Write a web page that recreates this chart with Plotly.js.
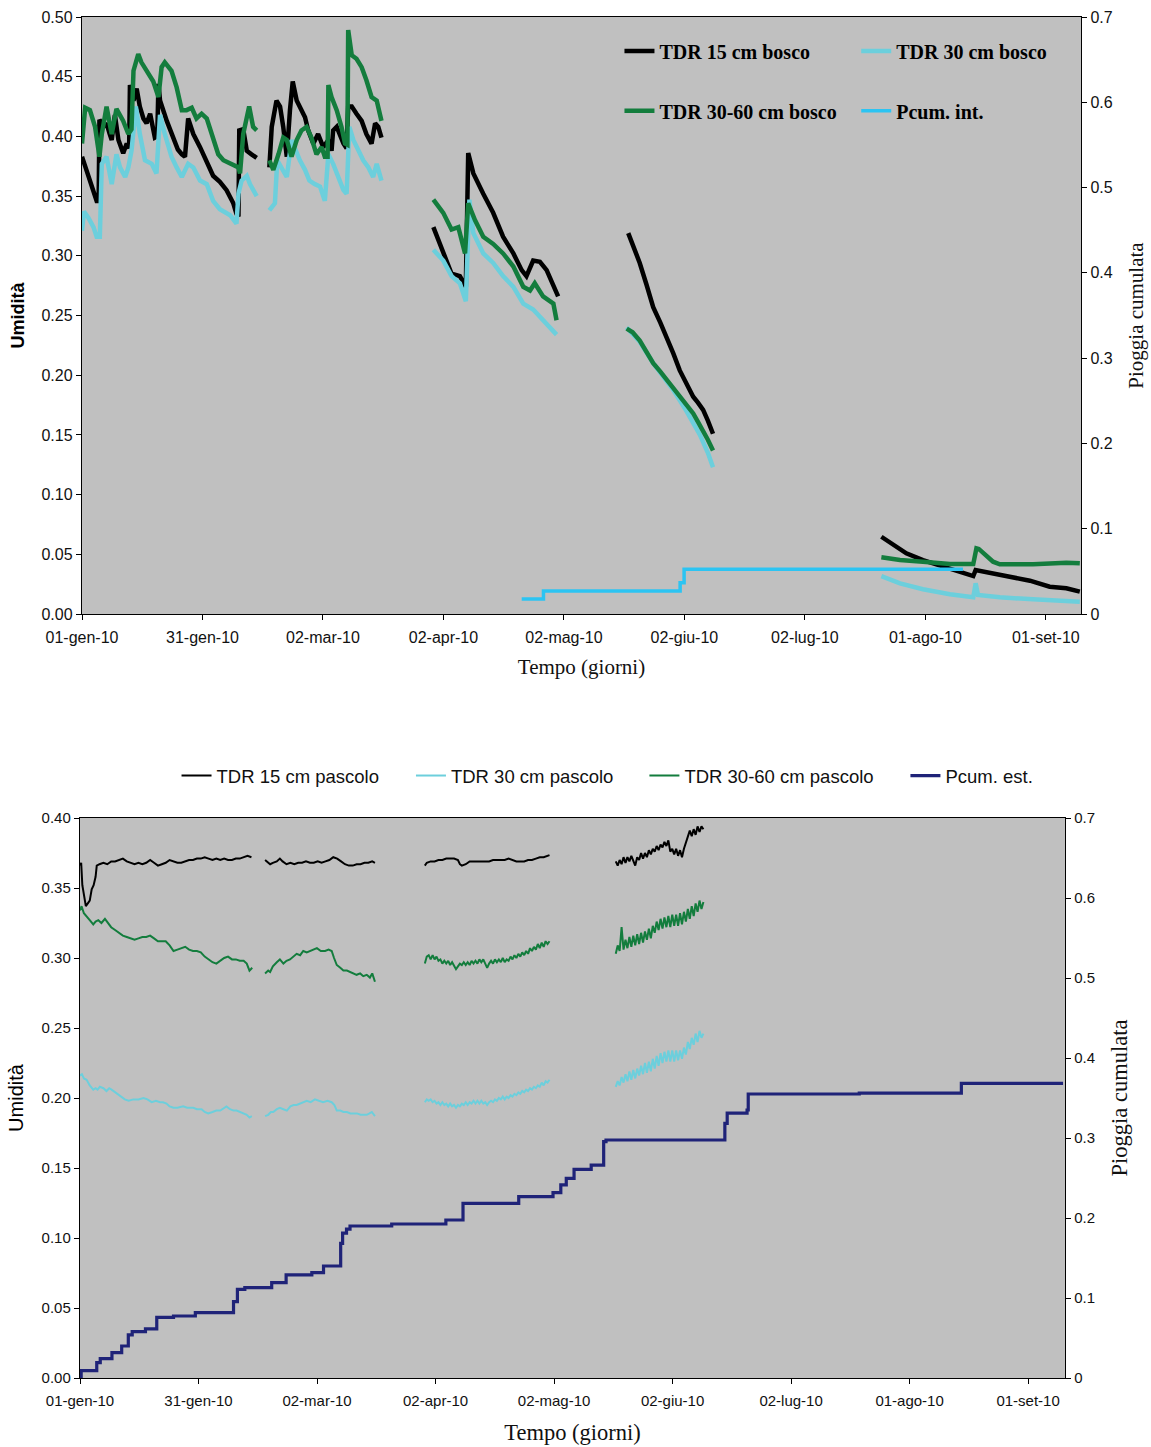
<!DOCTYPE html>
<html>
<head>
<meta charset="utf-8">
<script src="https://cdn.plot.ly/plotly-3.0.1.min.js"></script>
<style>
  html, body { margin: 0; padding: 0; background: #ffffff; }
  #bosco   { position: absolute; left: 0; top: 0;     width: 1151px; height: 700px; }
  #pascolo { position: absolute; left: 0; top: 700px; width: 1151px; height: 747px; }
</style>
</head>
<body>
<div id="bosco"></div>
<div id="pascolo"></div>
<script>
// ---- Soil moisture (TDR) and cumulative rainfall, 2010 ----
// Each entry is [day since 01-gen-2010, value]; null marks a gap in the record.

const tickLabels = ['01-gen-10','31-gen-10','02-mar-10','02-apr-10','02-mag-10',
                    '02-giu-10','02-lug-10','01-ago-10','01-set-10'];

// Bosco (forest) site
const bosco15 = [
  [0,.383],[0.5,.378],[1.2,.371],[2,.362],[3,.352],[3.7,.346],[4.2,.346],[4.4,.414],[5.4,.408],[6.2,.411],
  [7,.402],[7.5,.397],[8.3,.418],[9.2,.397],[10.4,.386],[11.3,.394],[11.9,.390],[12.1,.443],[13,.430],[13.8,.440],
  [14.6,.425],[15.5,.415],[16.3,.411],[17.2,.419],[18.4,.399],[19,.400],[19.3,.444],[19.7,.430],[21.4,.413],[23.1,.397],
  [24.2,.389],[25.2,.385],[26,.383],[26.8,.415],[28.1,.402],[29.8,.391],[30.6,.385],[31.9,.374],[33.1,.367],[34.8,.362],
  [36.5,.355],[38.2,.344],[39,.335],[39.5,.333],[39.7,.405],[40.7,.406],[41.6,.388],[42.8,.385],[44.1,.382],
  null,
  [47.3,.374],[47.9,.408],[49.1,.430],[50,.425],[50.8,.408],[51.7,.383],[52.5,.422],[53.2,.446],[54.2,.430],[55.4,.422],
  [56.3,.416],[57.1,.405],[58.4,.394],[59.6,.402],[60.9,.391],[62.2,.397],[63,.388],[63.4,.405],[64.3,.408],[66,.394],
  [66.8,.390],[67.2,.425],[68.1,.425],[69.3,.419],[70.6,.413],[71.8,.402],[73.1,.394],[74,.411],[74.8,.408],[75.6,.399],
  null,
  [88.7,.324],[91.2,.302],[93.3,.285],[95.4,.283],[96.9,.274],[97.5,.386],[98.8,.369],[101.3,.352],[103.8,.336],[106.3,.316],
  [108.9,.302],[111,.288],[112.2,.283],[113.9,.296],[115.6,.295],[117.3,.288],[119,.274],[120.2,.266],
  null,
  [137.9,.319],[140.8,.294],[142.5,.276],[144.2,.257],[146,.244],[147.6,.232],[149.3,.218],[150.9,.204],[152.6,.193],
  [154.3,.182],[155.5,.177],[156.8,.171],[158,.162],[159.3,.151],
  null,
  [201.8,.0647],[204.8,.0578],[208.1,.0508],[212.3,.0452],[217.4,.0396],[221.6,.0354],[225,.0318],[225.6,.0368],
  [229.2,.0341],[234.2,.0312],[239.3,.0279],[244.3,.0229],[248.5,.0215],[251.9,.0187]
];

const bosco30 = [
  [0,.321],[0.5,.337],[1.6,.332],[2.9,.324],[3.7,.316],[4.5,.316],[5,.377],[6.2,.383],[7.5,.360],[8.7,.385],
  [9.6,.374],[10.9,.366],[11.7,.374],[12.5,.388],[13.6,.425],[14.6,.402],[15.9,.380],[17.6,.377],[18.8,.369],[19.7,.418],
  [20.9,.402],[22.6,.383],[23.9,.374],[25.2,.366],[26.8,.377],[28.1,.374],[29.8,.363],[31.5,.360],[33.1,.346],[34.8,.339],
  [37.4,.334],[39,.327],[39.5,.352],[40.3,.363],[41.6,.367],[42.4,.360],[44.1,.350],
  null,
  [47.3,.338],[48.7,.344],[49.3,.380],[50.4,.374],[51.7,.366],[52.9,.397],[54,.388],[55,.380],[56.3,.372],[57.4,.363],
  [58.8,.360],[60.1,.358],[61.3,.346],[62.2,.385],[63.4,.377],[64.7,.366],[66,.355],[66.8,.352],[67.5,.408],[68.5,.397],
  [69.7,.388],[71,.380],[72.3,.374],[73.5,.366],[74.4,.377],[75.6,.363],
  null,
  [88.7,.305],[91.2,.296],[93.3,.283],[95.4,.277],[96.9,.262],[97.8,.347],[98.8,.319],[101.3,.302],[103.8,.294],[106.3,.283],
  [108.9,.274],[111.4,.260],[113.9,.255],[116.4,.246],[119.8,.234],
  null,
  [137.5,.240],[140.8,.228],[144.2,.210],[147.6,.195],[149.2,.188],[152.6,.170],[156,.150],[158,.135],[159.3,.123],
  null,
  [201.8,.0318],[206.5,.0257],[212.3,.0207],[219.1,.0165],[225,.0140],[225.6,.0257],[226.2,.0159],[231.7,.0140],
  [240.1,.0123],[251.9,.0103]
];

const bosco3060 = [
  [0,.394],[0.8,.424],[2,.422],[3.3,.408],[4.4,.383],[5,.402],[6.2,.425],[7.5,.402],[8.7,.423],[10.4,.413],
  [11.7,.402],[12.5,.406],[13,.455],[14.2,.469],[15,.462],[16.3,.455],[18,.446],[19.3,.433],[20.1,.458],[20.9,.462],
  [22.6,.455],[23.9,.441],[25.2,.422],[26.4,.422],[27.7,.424],[28.9,.415],[30.2,.419],[31.5,.415],[33.1,.399],[34.4,.385],
  [35.7,.380],[37.4,.377],[39.5,.374],[39.9,.369],[40.7,.402],[42.2,.425],[43.2,.408],[44.1,.405],
  null,
  [47.3,.380],[48.3,.372],[49.6,.385],[50.8,.399],[51.7,.397],[52.9,.383],[54.2,.397],[55.4,.405],[56.7,.408],[57.9,.399],
  [59.2,.385],[60.5,.391],[61.3,.383],[62,.383],[62.2,.443],[63,.433],[64.3,.422],[65.5,.408],[66.4,.394],[67,.393],
  [67.2,.489],[68.1,.468],[69.3,.465],[70.6,.458],[71.8,.447],[73.1,.433],[74.4,.430],[75.6,.413],
  null,
  [88.7,.347],[91.2,.336],[93.3,.322],[95,.324],[96.7,.302],[97.5,.344],[99.2,.330],[101.3,.316],[103.8,.310],[106.3,.302],
  [108.9,.291],[111.4,.274],[113.1,.271],[114.3,.277],[116.4,.266],[119,.260],[119.8,.246],
  null,
  [137.5,.239],[139,.236],[140.8,.229],[142.5,.220],[144.2,.210],[146,.203],[147.6,.196],[149.2,.189],[150.9,.182],
  [152.6,.175],[154.3,.168],[155.5,.161],[156.8,.154],[158,.146],[159.3,.137],
  null,
  [201.8,.0475],[206.5,.0452],[212.3,.0438],[219.1,.0419],[225,.0418],[225.8,.0550],[226.4,.0545],[230,.0438],
  [231.7,.0416],[240.1,.0416],[248.5,.0430],[251.9,.0424]
];

// cumulative rainfall under canopy (right axis), step series
const pcumInt = [[111,.0176],[116.5,.027],[151,.0367],[152,.0524],[222.4,.0524]];

// Pascolo (pasture) site
const pascolo15 = [
  [0,.366],[0.3,.368],[0.6,.352],[1,.344],[1.5,.337],[2,.339],[2.5,.341],[3,.349],[3.5,.352],[4,.358],[4.3,.366],
  [5,.367],[6,.368],[7,.367],[8,.369],[9,.369],[10,.370],[11,.371],[12,.369],[13,.368],[14,.367],[15,.368],[16,.367],
  [17,.368],[18,.370],[19,.368],[20,.366],[21,.367],[22,.368],[23,.370],[24,.369],[25,.368],[26,.368],[27,.369],
  [28,.370],[29,.370],[30,.371],[31,.371],[32,.372],[33,.371],[34,.370],[35,.371],[36,.370],[37,.371],[38,.370],
  [39,.370],[40,.371],[41,.371],[42,.372],[43,.373],[44,.372],
  null,
  [47.5,.370],[48,.369],[48.8,.367],[49.5,.368],[50.5,.369],[51.3,.371],[52,.369],[53,.367],[54,.368],[55,.367],
  [56,.368],[57,.368],[58,.369],[59,.368],[60,.368],[61,.369],[62,.368],[63,.369],[64,.370],[65,.372],[66,.371],
  [67,.369],[68,.367],[69,.366],[70,.366],[71,.367],[72,.367],[73,.368],[74,.368],[75,.369],[75.7,.368],
  null,
  [88.5,.366],[89,.368],[90,.369],[91,.369],[92,.370],[93,.370],[94,.371],[95,.371],[96,.371],[97,.370],[97.5,.367],
  [98,.366],[99,.367],[100,.369],[101,.369],[102,.369],[103,.369],[104,.369],[105,.369],[106,.370],[107,.370],
  [108,.370],[109,.370],[110,.371],[111,.370],[112,.369],[113,.369],[114,.369],[115,.370],[116,.370],[117,.371],
  [118,.372],[119,.372],[120,.373],[120.5,.3735],
  null,
  [137.5,.369],[138,.366],[138.5,.370],[139,.367],[139.5,.372],[140,.368],[140.5,.372],[141,.369],[141.5,.373],
  [142,.369],[142.5,.366],[143,.372],[143.5,.370],[144,.375],[144.5,.371],[145,.375],[145.5,.372],[146,.377],
  [146.5,.374],[147,.378],[147.5,.376],[148,.380],[148.5,.377],[149,.381],[149.5,.379],[150,.383],[150.5,.380],
  [151,.384],[151.5,.376],[152,.378],[152.5,.374],[153,.378],[153.5,.373],[154,.377],[154.5,.372],[155,.378],
  [155.5,.382],[156,.386],[156.5,.391],[157,.387],[157.5,.392],[158,.388],[158.5,.394],[159,.390],[159.5,.394],[160,.392]
];

const pascolo30 = [
  [0,.216],[0.5,.217],[1,.214],[1.7,.213],[2.5,.209],[3.4,.206],[4,.207],[4.5,.206],[5.1,.208],[6,.207],[6.8,.205],
  [7.5,.207],[8.1,.206],[9,.204],[10,.202],[11,.200],[11.5,.199],[12.5,.198],[13.7,.199],[15,.199],[16.3,.200],
  [17.3,.199],[18.4,.197],[19.5,.198],[20.5,.197],[21.3,.197],[22.2,.196],[23,.194],[24,.193],[25,.193],[26.5,.194],
  [27.5,.193],[29.1,.193],[30,.192],[31.2,.192],[32,.190],[32.9,.189],[34,.190],[35,.191],[36,.191],[37,.193],
  [37.6,.194],[38.5,.192],[39.4,.191],[40.2,.191],[41.1,.190],[42,.189],[42.8,.188],[43.5,.186],[44.1,.187],
  null,
  [47.5,.187],[48.3,.188],[49,.190],[49.6,.190],[50.5,.192],[51.3,.193],[52.2,.192],[53.1,.191],[54,.194],[54.8,.195],
  [55.6,.195],[56.5,.196],[57.3,.197],[58.2,.198],[59.2,.197],[60.3,.199],[61.3,.198],[62.4,.197],[63.5,.198],
  [64.6,.197],[65.3,.195],[65.9,.191],[66.8,.191],[67.6,.190],[68.5,.190],[69.4,.189],[70.2,.189],[71.1,.189],
  [72,.188],[72.8,.188],[73.6,.188],[74.3,.189],[74.9,.190],[75.7,.187],
  null,
  [88.5,.197],[89,.199],[89.5,.198],[90,.199],[90.5,.197],[91,.198],[91.5,.196],[92,.197],[92.5,.195],[93,.197],
  [93.5,.195],[94,.196],[94.5,.194],[95,.196],[95.5,.194],[96,.195],[96.5,.193],[97,.195],[97.5,.194],[98,.196],
  [98.5,.195],[99,.197],[99.5,.195],[100,.197],[100.5,.196],[101,.198],[101.5,.196],[102,.198],[102.5,.196],
  [103,.198],[103.5,.196],[104,.197],[104.5,.195],[105,.197],[105.5,.198],[106,.197],[106.5,.199],[107,.198],
  [107.5,.200],[108,.199],[108.5,.201],[109,.199],[109.5,.201],[110,.200],[110.5,.202],[111,.201],[111.5,.203],
  [112,.202],[112.5,.204],[113,.203],[113.5,.205],[114,.204],[114.5,.206],[115,.205],[115.5,.207],[116,.206],
  [116.5,.208],[117,.207],[117.5,.209],[118,.208],[118.5,.211],[119,.209],[119.5,.212],[120,.211],[120.5,.213],
  null,
  [137.5,.208],[138,.212],[138.5,.209],[139,.215],[139.5,.211],[140,.217],[140.5,.212],[141,.219],[141.5,.213],
  [142,.220],[142.5,.214],[143,.221],[143.5,.216],[144,.223],[144.5,.217],[145,.225],[145.5,.218],[146,.226],
  [146.5,.219],[147,.228],[147.5,.221],[148,.230],[148.5,.223],[149,.232],[149.5,.225],[150,.233],[150.5,.226],
  [151,.234],[151.5,.226],[152,.234],[152.5,.226],[153,.234],[153.5,.227],[154,.234],[154.5,.228],[155,.236],
  [155.5,.231],[156,.240],[156.5,.235],[157,.243],[157.5,.238],[158,.246],[158.5,.240],[159,.248],[159.5,.243],[160,.246]
];

const pascolo3060 = [
  [0,.334],[0.4,.337],[1,.332],[1.7,.330],[2.5,.327],[3.4,.324],[4,.326],[4.7,.327],[5.5,.325],[6.4,.328],[7,.326],
  [8,.322],[9,.320],[10,.318],[11,.316],[12,.315],[13,.314],[14,.313],[15,.314],[16,.315],[17,.315],[18,.316],
  [19,.314],[20,.312],[21,.312],[22,.312],[23,.309],[24,.305],[25,.306],[26,.307],[27,.308],[28,.306],[29,.305],
  [30,.305],[31,.304],[32,.301],[33,.299],[34,.297],[35,.296],[36,.298],[37,.300],[38,.301],[39,.299],[40,.299],
  [41,.298],[42,.298],[42.8,.296],[43.5,.291],[44.2,.293],
  null,
  [47.5,.289],[48.3,.291],[48.8,.290],[49.5,.294],[50.5,.297],[51.3,.299],[52.2,.296],[53,.298],[53.9,.299],
  [54.7,.301],[55.6,.303],[56.5,.302],[57.3,.305],[58.2,.304],[59,.305],[59.9,.306],[60.8,.307],[61.8,.305],
  [62.9,.305],[63.8,.306],[64.6,.305],[65.2,.300],[65.9,.295],[66.8,.293],[67.6,.291],[68.5,.291],[69.4,.290],
  [70.2,.289],[71,.288],[71.9,.289],[72.7,.287],[73.6,.288],[74.4,.286],[75,.289],[75.7,.283],
  null,
  [88.5,.296],[89,.301],[89.5,.302],[90,.299],[90.5,.302],[91,.299],[91.5,.301],[92,.298],[92.5,.299],[93,.296],
  [93.5,.298],[94,.296],[94.5,.298],[95,.295],[95.5,.297],[96,.294],[96.5,.292],[97,.294],[97.5,.296],[98,.295],
  [98.5,.297],[99,.295],[99.5,.297],[100,.295],[100.5,.298],[101,.296],[101.5,.298],[102,.296],[102.5,.299],
  [103,.297],[103.5,.299],[104,.296],[104.5,.293],[105,.296],[105.5,.298],[106,.296],[106.5,.299],[107,.297],
  [107.5,.299],[108,.297],[108.5,.300],[109,.297],[109.5,.299],[110,.298],[110.5,.301],[111,.299],[111.5,.302],
  [112,.300],[112.5,.303],[113,.301],[113.5,.304],[114,.302],[114.5,.305],[115,.303],[115.5,.307],[116,.305],
  [116.5,.308],[117,.306],[117.5,.310],[118,.307],[118.5,.311],[119,.308],[119.5,.312],[120,.310],[120.5,.312],
  null,
  [137.5,.303],[138,.309],[138.5,.305],[139,.322],[139.5,.306],[140,.313],[140.5,.307],[141,.315],[141.5,.308],
  [142,.316],[142.5,.309],[143,.317],[143.5,.310],[144,.318],[144.5,.311],[145,.319],[145.5,.313],[146,.321],
  [146.5,.314],[147,.323],[147.5,.318],[148,.326],[148.5,.320],[149,.328],[149.5,.321],[150,.329],[150.5,.322],
  [151,.330],[151.5,.322],[152,.331],[152.5,.323],[153,.331],[153.5,.323],[154,.332],[154.5,.324],[155,.333],
  [155.5,.326],[156,.335],[156.5,.328],[157,.337],[157.5,.330],[158,.339],[158.5,.333],[159,.341],[159.5,.335],[160,.340]
];

// cumulative open-field rainfall (right axis), step series
const pcumEst = [
  [0,0],[0.3,.0092],[4.3,.0192],[5.2,.0242],[8.2,.0317],[10.7,.040],[12.4,.0538],[13.4,.0579],[16.8,.0613],
  [19.7,.0758],[24,.0775],[29.6,.0817],[39.4,.0954],[40.4,.1108],[42.3,.113],[49.2,.1192],[52.9,.1288],[59.5,.1317],
  [62.5,.140],[66.9,.1683],[67.4,.181],[68.4,.186],[69.3,.190],[80,.1925],[93.9,.1975],[98.3,.2183],[112.6,.2267],
  [121.4,.2317],[123.4,.2413],[124.8,.2496],[126.8,.2608],[131.2,.266],[134.4,.2954],[135,.2975],[165.5,.3183],
  [166.1,.331],[171.2,.335],[171.5,.355],[200,.356],[226.2,.3683],[252.3,.3683]
];

// ---- helpers ----
const BASE = Date.UTC(2010, 0, 1);
function dayToDate(d) {
  return new Date(BASE + d * 86400000).toISOString().slice(0, 19).replace('T', ' ');
}
function xy(pairs) {
  const x = [], y = [];
  pairs.forEach(p => {
    if (p === null) { x.push(null); y.push(null); }
    else { x.push(dayToDate(p[0])); y.push(p[1]); }
  });
  return { x, y };
}
// month ticks are evenly spaced (365/12 days apart)
const tickVals = tickLabels.map((_, k) => dayToDate(k * 365 / 12));

const BLACK = '#000000', CYAN = '#6ccfdc', GREEN = '#137d3d', SKY = '#2cc4f2', NAVY = '#1f2378';
const SANS = 'Liberation Sans, Arial, sans-serif';
const SERIF = 'Liberation Serif, Times New Roman, serif';

function line(pairs, name, color, width, legend, yaxis, shape) {
  const d = xy(pairs);
  return {
    type: 'scatter', mode: 'lines', x: d.x, y: d.y, name: name,
    line: { color: color, width: width, shape: shape || 'linear' },
    yaxis: yaxis || 'y', legend: legend, connectgaps: false, hoverinfo: 'skip'
  };
}

function xAxis(endDay, tickSize, labelGap, titleSize, titleGap) {
  return {
    type: 'date', range: [dayToDate(0), dayToDate(endDay)],
    tickmode: 'array', tickvals: tickVals, ticktext: tickLabels,
    ticks: 'outside', ticklen: 5, tickcolor: '#000', showgrid: false, zeroline: false,
    showline: true, linecolor: '#000', linewidth: 1.2, mirror: true,
    ticklabelstandoff: labelGap,
    tickfont: { family: SANS, size: tickSize, color: '#111' },
    title: { text: 'Tempo (giorni)', font: { family: SERIF, size: titleSize, color: '#111' }, standoff: titleGap }
  };
}

function yLeft(maxVal, tickSize, titleFont) {
  return {
    range: [0, maxVal], dtick: 0.05, tickformat: '.2f',
    ticks: 'outside', ticklen: 5, tickcolor: '#000', showgrid: false, zeroline: false,
    showline: true, linecolor: '#000', linewidth: 1.2,
    tickfont: { family: SANS, size: tickSize, color: '#111' },
    title: { text: 'Umidità', font: titleFont, standoff: 12 }
  };
}

function yRight(tickSize, titleSize, titleGap) {
  return {
    overlaying: 'y', side: 'right', range: [0, 0.7],
    tickmode: 'array', tickvals: [0, .1, .2, .3, .4, .5, .6, .7],
    ticktext: ['0', '0.1', '0.2', '0.3', '0.4', '0.5', '0.6', '0.7'],
    ticks: 'outside', ticklen: 5, tickcolor: '#000', showgrid: false, zeroline: false,
    showline: true, linecolor: '#000', linewidth: 1.2,
    tickfont: { family: SANS, size: tickSize, color: '#111' },
    title: { text: 'Pioggia cumulata', font: { family: SERIF, size: titleSize, color: '#111' }, standoff: titleGap }
  };
}

function legendAt(x, y, font) {
  return { x: x, y: y, xanchor: 'left', yanchor: 'middle', orientation: 'h',
           bgcolor: 'rgba(0,0,0,0)', borderwidth: 0, font: font };
}

// ---- upper chart: bosco ----
const topFont = { family: SERIF, size: 20, color: '#000', weight: 'bold' };
const topTraces = [
  line(bosco15,   'TDR 15 cm bosco',    BLACK, 4.5, 'legend'),
  line(bosco30,   'TDR 30 cm bosco',    CYAN,  4.5, 'legend2'),
  line(bosco3060, 'TDR 30-60 cm bosco', GREEN, 4.5, 'legend3'),
  line(pcumInt,   'Pcum. int.',         SKY,   3.5, 'legend4', 'y2', 'hv')
];
const topLayout = {
  width: 1151, height: 700,
  margin: { l: 82, r: 70, t: 17, b: 86 },
  paper_bgcolor: '#ffffff', plot_bgcolor: '#c0c0c0',
  showlegend: true,
  xaxis: xAxis(252.2, 16, 4, 21, 13),
  yaxis: yLeft(0.5, 16, { family: SANS, size: 18, color: '#000', weight: 'bold' }),
  yaxis2: yRight(16, 21, 16),
  legend:  legendAt(0.538, 0.943, topFont),
  legend2: legendAt(0.775, 0.943, topFont),
  legend3: legendAt(0.538, 0.843, topFont),
  legend4: legendAt(0.775, 0.843, topFont)
};

// ---- lower chart: pascolo ----
const botFont = { family: SANS, size: 18.5, color: '#111' };
const botTraces = [
  line(pascolo15,   'TDR 15 cm pascolo',    BLACK, 2,   'legend'),
  line(pascolo30,   'TDR 30 cm pascolo',    CYAN,  2,   'legend2'),
  line(pascolo3060, 'TDR 30-60 cm pascolo', GREEN, 2,   'legend3'),
  line(pcumEst,     'Pcum. est.',           NAVY,  3.2, 'legend4', 'y2', 'hv')
];
const botLayout = {
  width: 1151, height: 747,
  margin: { l: 80, r: 86, t: 118, b: 69 },
  paper_bgcolor: '#ffffff', plot_bgcolor: '#c0c0c0',
  showlegend: true,
  xaxis: xAxis(252.8, 15, 4, 22.5, 16),
  yaxis: yLeft(0.4, 15, { family: SANS, size: 20, color: '#000' }),
  yaxis2: yRight(15, 22.5, 17),
  legend:  legendAt(0.098, 1.075, botFont),
  legend2: legendAt(0.336, 1.075, botFont),
  legend3: legendAt(0.573, 1.075, botFont),
  legend4: legendAt(0.838, 1.075, botFont)
};

const config = { staticPlot: true, displayModeBar: false };
Plotly.newPlot('bosco', topTraces, topLayout, config);
Plotly.newPlot('pascolo', botTraces, botLayout, config);
</script>
</body>
</html>
